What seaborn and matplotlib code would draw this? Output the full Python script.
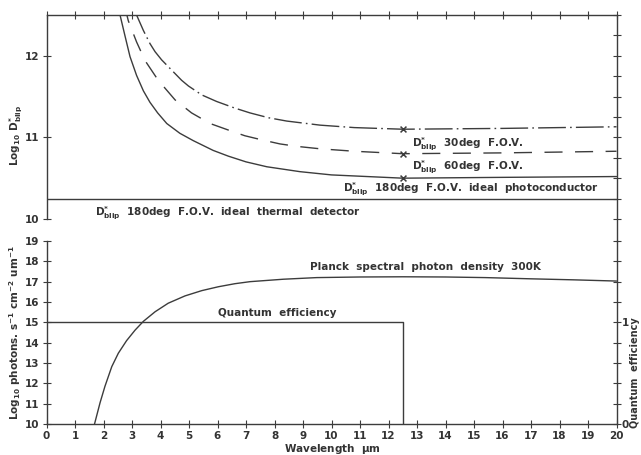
import matplotlib
matplotlib.use("Agg")
import matplotlib.pyplot as plt
import seaborn as sns
import numpy as np

# ---------------- data ----------------
# Upper panel: log10 D*blip versus wavelength (um)
wl_180 = [2.50, 2.58, 2.75, 2.93, 3.16, 3.40, 3.63, 3.90, 4.22, 4.68, 5.15, 5.85, 6.38, 7.00, 7.73, 8.89, 10.0, 12.5, 16.0, 20.0]
d_180 = [12.62, 12.50, 12.25, 11.99, 11.76, 11.57, 11.43, 11.30, 11.17, 11.05, 10.96, 10.84, 10.77, 10.70, 10.64, 10.58, 10.54, 10.50, 10.51, 10.52]
wl_60 = [2.76, 2.82, 2.87, 3.16, 3.46, 3.92, 4.51, 5.09, 5.74, 6.38, 6.96, 7.55, 8.19, 8.78, 9.60, 10.8, 12.5, 16.0, 20.0]
d_60 = [12.62, 12.50, 12.43, 12.17, 11.94, 11.70, 11.46, 11.30, 11.17, 11.09, 11.02, 10.97, 10.92, 10.89, 10.86, 10.83, 10.80, 10.81, 10.83]
wl_30 = [3.05, 3.16, 3.40, 3.63, 3.81, 4.04, 4.74, 4.98, 5.45, 5.97, 6.60, 7.14, 7.80, 8.43, 9.60, 10.8, 12.5, 16.0, 20.0]
d_30 = [12.58, 12.50, 12.31, 12.15, 12.05, 11.95, 11.70, 11.63, 11.52, 11.44, 11.36, 11.30, 11.24, 11.20, 11.15, 11.12, 11.10, 11.11, 11.13]
wl_thermal = [0.0, 20.0]
d_thermal = [10.25, 10.25]
wl_cut = [12.5, 12.5, 12.5]
d_cut = [11.10, 10.80, 10.50]

# Lower panel: Planck spectral photon density 300K and quantum efficiency
wl_planck = [1.685, 1.88, 2.05, 2.29, 2.52, 2.81, 3.11, 3.40, 3.81, 4.27, 4.86, 5.45, 6.03, 6.61, 7.14, 8.31, 9.48, 11.0, 12.5, 14.0, 15.4, 17.0, 18.5, 20.0]
photons = [10.0, 11.05, 11.85, 12.82, 13.48, 14.10, 14.62, 15.05, 15.52, 15.94, 16.30, 16.56, 16.75, 16.90, 17.00, 17.12, 17.20, 17.23, 17.24, 17.23, 17.20, 17.14, 17.09, 17.03]
wl_qe = [0.0, 12.5, 12.5]
qe = [1.0, 1.0, 0.0]

x_ticks = list(range(0, 21))
top_left_ticks = [10, 11, 12]
bot_left_ticks = list(range(10, 20))
qe_ticks = [0.0, 0.2, 0.4, 0.6, 0.8, 1.0, 1.2, 1.4, 1.6, 1.8]
qe_labels = ["0", "", "", "", "", "1", "", "", "", ""]

# ---------------- style ----------------
sns.set_theme(style="white")
plt.rcParams["font.family"] = ["DejaVu Sans"]
plt.rcParams["font.weight"] = "bold"
plt.rcParams["axes.labelweight"] = "bold"
plt.rcParams["mathtext.fontset"] = "custom"
plt.rcParams["mathtext.rm"] = "DejaVu Sans:bold"
plt.rcParams["mathtext.bf"] = "DejaVu Sans:bold"
plt.rcParams["mathtext.it"] = "DejaVu Sans:bold"
plt.rcParams["mathtext.default"] = "rm"
INK = "#3c3c3c"
TXT = "#333333"
LW = 1.0
FS = 7.5

fig = plt.figure(figsize=(6.41, 4.55), dpi=100)
fig.patch.set_facecolor("white")
L = 46.5 / 641
W = 570 / 641
ax_top = fig.add_axes([L, 1 - 241 / 455, W, 226 / 455])
ax_bot = fig.add_axes([L, 1 - 424 / 455, W, 183 / 455])
ax_top_r = ax_top.twinx()
ax_q = ax_bot.twinx()

for a in (ax_top, ax_bot, ax_top_r, ax_q):
    a.set_facecolor("none")
    for s in a.spines.values():
        s.set_color(INK)
        s.set_linewidth(LW)
    a.tick_params(direction="inout", length=6, width=0.8, color=INK,
                  labelsize=FS, labelcolor=TXT, pad=2)

# ---------------- upper panel ----------------
ax_top.set_xlim(0, 20)
ax_top.set_ylim(9.730, 12.5)
ax_top_r.set_ylim(9.730, 12.5)
sns.lineplot(x=wl_180, y=d_180, ax=ax_top, sort=False, estimator=None, color=INK, lw=LW)
l60 = sns.lineplot(x=wl_60, y=d_60, ax=ax_top, sort=False, estimator=None, color=INK, lw=LW).lines[-1]
l60.set_dashes([13, 9])
l30 = sns.lineplot(x=wl_30, y=d_30, ax=ax_top, sort=False, estimator=None, color=INK, lw=LW).lines[-1]
l30.set_dashes([20, 3, 1.2, 3])
sns.lineplot(x=wl_thermal, y=d_thermal, ax=ax_top, sort=False, estimator=None, color=INK, lw=LW)
sns.scatterplot(x=wl_cut, y=d_cut, ax=ax_top, marker="x", s=18, color=INK, linewidth=1.1, zorder=5)

ax_top.spines["bottom"].set_visible(False)
ax_top.spines["right"].set_visible(False)
ax_top.spines["left"].set_bounds(10, 12.5)
ax_top.xaxis.set_ticks_position("top")
ax_top.set_xticks(x_ticks)
ax_top.set_xticklabels([])
ax_top.set_yticks(top_left_ticks)
ax_top.set_yticklabels([str(t) for t in top_left_ticks])
ax_top.yaxis.set_ticks_position("left")
ax_top.set_ylabel(r"Log$_{10}$ D$^{*}_{\rm blip}$", fontsize=FS, color=TXT)
ax_top.yaxis.set_label_coords(-0.038, 0.465)

for s in ("left", "bottom", "top"):
    ax_top_r.spines[s].set_visible(False)
ax_top_r.set_yticks(np.arange(10, 12.51, 0.25))
ax_top_r.set_yticklabels([])

star = r"D$^{*}_{\rm blip}$"
tkw = dict(fontsize=FS, color=TXT, va="baseline", ha="left")
ax_top.text(1.70, 10.037, star + "  180deg  F.O.V.  ideal  thermal  detector", **tkw)
ax_top.text(10.41, 10.33, star + "  180deg  F.O.V.  ideal  photoconductor", **tkw)
ax_top.text(12.81, 10.60, star + "  60deg  F.O.V.", **tkw)
ax_top.text(12.81, 10.88, star + "  30deg  F.O.V.", **tkw)

# ---------------- lower panel ----------------
ax_bot.set_xlim(0, 20)
ax_bot.set_ylim(10, 19)
sns.lineplot(x=wl_planck, y=photons, ax=ax_bot, sort=False, estimator=None, color=INK, lw=LW)
ax_q.set_ylim(0, 1.8)
sns.lineplot(x=wl_qe, y=qe, ax=ax_q, sort=False, estimator=None, color=INK, lw=LW)

ax_bot.spines["top"].set_visible(False)
ax_bot.spines["right"].set_visible(False)
ax_bot.set_xticks(x_ticks)
ax_bot.set_xticklabels([str(t) for t in x_ticks])
ax_bot.xaxis.set_ticks_position("bottom")
ax_bot.set_yticks(bot_left_ticks)
ax_bot.set_yticklabels([str(t) for t in bot_left_ticks])
ax_bot.yaxis.set_ticks_position("left")
ax_bot.set_xlabel(r"Wavelength  $\mu$m", fontsize=FS, color=TXT, fontweight="bold")
ax_bot.xaxis.set_label_coords(0.502, -0.098)
ax_bot.set_ylabel(r"Log$_{10}$ photons. s$^{-1}$ cm$^{-2}$ um$^{-1}$", fontsize=FS, color=TXT, fontweight="bold")
ax_bot.yaxis.set_label_coords(-0.041, 0.5)

for s in ("left", "bottom", "top"):
    ax_q.spines[s].set_visible(False)
ax_q.set_yticks(qe_ticks)
ax_q.set_yticklabels(qe_labels)
ax_q.tick_params(axis="y", pad=0.5)
ax_q.set_ylabel("Quantum  efficiency", fontsize=7, color=TXT, fontweight="bold")
ax_q.yaxis.set_label_coords(1.024, 0.28)

ax_bot.text(9.24, 17.57, "Planck  spectral  photon  density  300K", **tkw)
ax_bot.text(6.03, 15.33, "Quantum  efficiency", **tkw)

fig.savefig("out.png", dpi=100, facecolor="white")
